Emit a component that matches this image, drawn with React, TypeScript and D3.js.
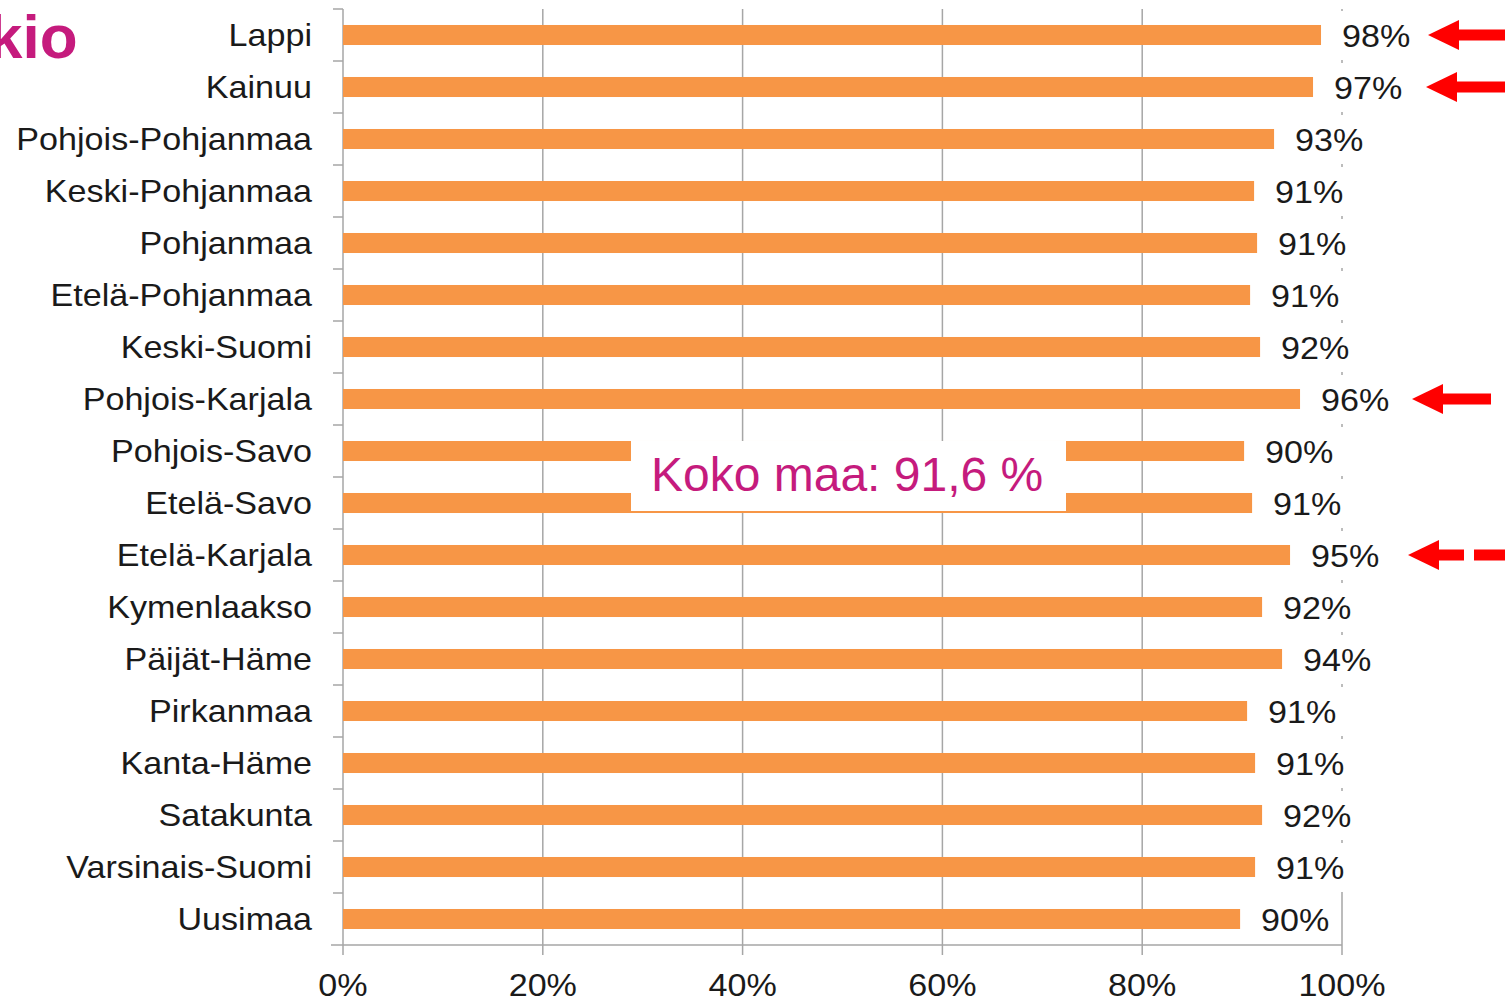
import React from "react";
import * as d3 from "d3";

const categories = [
  "Lappi", "Kainuu", "Pohjois-Pohjanmaa", "Keski-Pohjanmaa", "Pohjanmaa",
  "Etelä-Pohjanmaa", "Keski-Suomi", "Pohjois-Karjala", "Pohjois-Savo",
  "Etelä-Savo", "Etelä-Karjala", "Kymenlaakso", "Päijät-Häme", "Pirkanmaa",
  "Kanta-Häme", "Satakunta", "Varsinais-Suomi", "Uusimaa",
];
const values = [97.9, 97.1, 93.2, 91.2, 91.5, 90.8, 91.8, 95.8, 90.2, 91.0, 94.8, 92.0, 94.0, 90.5, 91.3, 92.0, 91.3, 89.8];
const valueLabels = ["98%", "97%", "93%", "91%", "91%", "91%", "92%", "96%", "90%", "91%", "95%", "92%", "94%", "91%", "91%", "92%", "91%", "90%"];
const xTicks = [0, 20, 40, 60, 80, 100];
const arrowCategories = ["Lappi", "Kainuu", "Pohjois-Karjala"];
const dashedArrowCategories = ["Etelä-Karjala"];
const titleFragment = "kio";
const annotation = "Koko maa: 91,6 %";

const W = 1505, H = 1001;
const x = d3.scaleLinear().domain([0, 100]).range([343, 1342]);
const y = d3.scaleBand<string>().domain(categories).range([9, 945]).paddingInner(0).paddingOuter(0);
const BAR_FRAC = 0.385;
const ORANGE = "#F79646";
const GRID = "#A6A6A6";
const MAGENTA = "#C51B7D";
const TEXT = "#1a1a1a";
const FONT = "Arial, 'Liberation Sans', sans-serif";
const SX = 1.1;

function Arrow({ cy, tip, end, dashed }: { cy: number; tip: number; end: number; dashed?: boolean }) {
  const headLen = 31, headH = 15, shaft = 5.5;
  const base = tip + headLen;
  return (
    <g fill="#FF0000">
      <path d={`M${tip},${cy} L${base},${cy - headH} L${base},${cy + headH} Z`} />
      {dashed ? (
        <>
          <rect x={base - 1} y={cy - shaft} width={26} height={shaft * 2} />
          <rect x={base + 35} y={cy - shaft} width={end - base - 35} height={shaft * 2} />
        </>
      ) : (
        <rect x={base - 1} y={cy - shaft} width={end - base + 1} height={shaft * 2} />
      )}
    </g>
  );
}

function SText({ tx, ty, anchor, children }: { tx: number; ty: number; anchor?: string; children: React.ReactNode }) {
  return (
    <text transform={`translate(${tx},${ty}) scale(${SX},1)`} fontSize={31} textAnchor={anchor || "start"} fill={TEXT}>
      {children}
    </text>
  );
}

export default function App() {
  const bw = y.bandwidth();
  const barH = bw * BAR_FRAC;
  const arrowSpec: Record<string, { tip: number; end: number }> = {
    "Lappi": { tip: 1428, end: 1505 },
    "Kainuu": { tip: 1426, end: 1505 },
    "Pohjois-Karjala": { tip: 1412, end: 1491 },
    "Etelä-Karjala": { tip: 1408, end: 1505 },
  };
  return (
    <svg width={W} height={H} style={{ position: "absolute", left: 0, top: 0, background: "#fff" }} fontFamily={FONT}>
      <rect width={W} height={H} fill="#fff" />
      {/* gridlines */}
      {xTicks.map((t) => (
        <line key={"g" + t} x1={x(t)} x2={x(t)} y1={9} y2={955} stroke={GRID} strokeWidth={1.5} />
      ))}
      {/* bottom axis */}
      <line x1={331} x2={x(100)} y1={945} y2={945} stroke={GRID} strokeWidth={1.5} />
      {/* category boundary ticks */}
      {categories.map((c) => (
        <line key={"t" + c} x1={333} x2={343} y1={y(c)!} y2={y(c)!} stroke={GRID} strokeWidth={1.5} />
      ))}
      {/* bars */}
      {categories.map((c, i) => (
        <rect key={"b" + c} x={x(0)} y={y(c)! + bw / 2 - barH / 2} width={x(values[i]) - x(0)} height={barH} fill={ORANGE} />
      ))}
      {/* value labels */}
      {categories.map((c, i) => (
        <g key={"v" + c}>
          <rect x={x(values[i]) + 3} y={y(c)! + 2} width={96} height={bw - 3} fill="#fff" />
          <SText tx={x(values[i]) + 21} ty={y(c)! + bw / 2 + 12}>{valueLabels[i]}</SText>
        </g>
      ))}
      {/* category labels */}
      {categories.map((c) => (
        <SText key={"c" + c} tx={312} ty={y(c)! + bw / 2 + 10.5} anchor="end">{c}</SText>
      ))}
      {/* x tick labels */}
      {xTicks.map((t) => (
        <SText key={"xl" + t} tx={x(t)} ty={996} anchor="middle">{t + "%"}</SText>
      ))}
      {/* annotation */}
      <rect x={631} y={441} width={435} height={70} fill="#fff" />
      <text x={651} y={491} fontSize={48} fill={MAGENTA}>{annotation}</text>
      {/* title fragment */}
      <text x={-12} y={58} fontSize={62} fontWeight="bold" fill={MAGENTA}>{titleFragment}</text>
      {/* arrows */}
      {arrowCategories.map((c) => (
        <Arrow key={"a" + c} cy={y(c)! + bw / 2} tip={arrowSpec[c].tip} end={arrowSpec[c].end} />
      ))}
      {dashedArrowCategories.map((c) => (
        <Arrow key={"d" + c} cy={y(c)! + bw / 2} tip={arrowSpec[c].tip} end={arrowSpec[c].end} dashed />
      ))}
    </svg>
  );
}
